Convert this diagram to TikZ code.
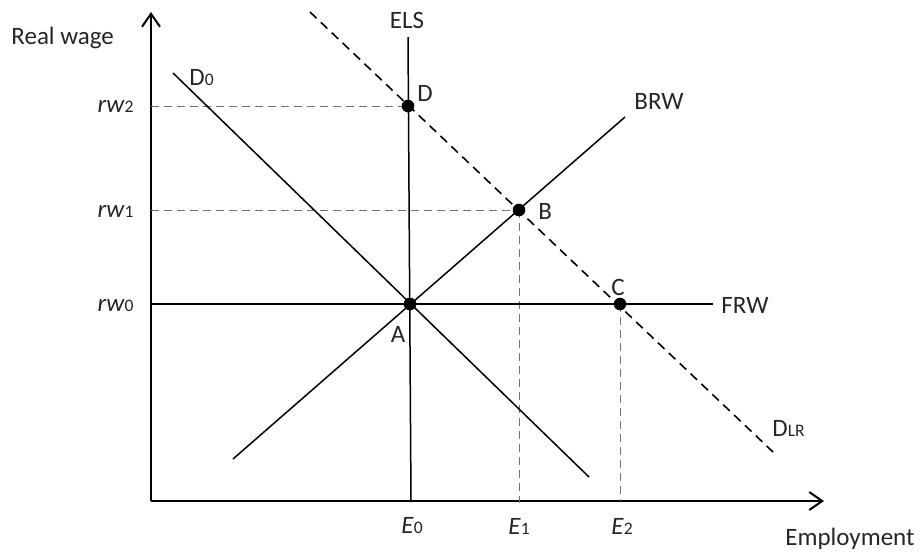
\documentclass[tikz,border=0pt]{standalone}
\usepackage{fontspec}
\setmainfont{Carlito}
\usetikzlibrary{arrows.meta}
\newcommand\smsub[1]{{\fontsize{8.8}{9}\selectfont #1}}
\begin{document}
\begin{tikzpicture}[x=0.5pt,y=-0.5pt,
  axisline/.style={line width=1pt,black},
  curve/.style={line width=0.75pt,black},
  guide/.style={line width=0.5pt,black!55,dash pattern=on 4pt off 2.5pt},
  longrun/.style={line width=0.8pt,black,dash pattern=on 4.5pt off 3pt},
  dot/.style={circle,fill=black,inner sep=0pt,minimum size=6.3pt},
  lbl/.style={inner sep=0pt,font=\fontsize{12.5}{14}\selectfont,text=black!85}]
\useasboundingbox (0,0) rectangle (920,553);
% axes
\coordinate (O) at (151,501);
\coordinate (ytip) at (151,12);
\coordinate (xtip) at (824,501);
\draw[axisline,-{Straight Barb[length=6.5pt,width=9pt,line width=1pt]}] (O) -- (ytip);
\draw[axisline,-{Straight Barb[length=6.5pt,width=9pt,line width=1pt]}] (O) -- (xtip);
% curve end points
\coordinate (elsT) at (408,37);
\coordinate (elsB) at (411,502);
\coordinate (dlrT) at (310,12);
\coordinate (dlrB) at (773,452);
\coordinate (brwL) at (233,459);
\coordinate (brwR) at (625,117);
\coordinate (d0T) at (173,73);
\coordinate (d0B) at (589,477);
\coordinate (frwL) at (151,304);
\coordinate (frwR) at (713,304);
% equilibrium points
\coordinate (A) at (410,304);
\coordinate (B) at (519,210);
\coordinate (C) at (620,304);
\coordinate (D) at (408,106);
% guide line ends
\coordinate (y2) at (151,106);
\coordinate (y1) at (151,210);
\coordinate (x1) at (519,503);
\coordinate (x2) at (620,501);
% guides
\draw[guide] (y2) -- (D);
\draw[guide] (y1) -- (B);
\draw[guide] (B) -- (x1);
\draw[guide] (C) -- (x2);
% curves
\draw[curve] (elsT) -- (elsB);
\draw[curve] (brwL) -- (brwR);
\draw[curve] (d0T) -- (d0B);
\draw[curve] (frwL) -- (frwR);
\draw[longrun] (dlrT) -- (dlrB);
% dots
\node[dot] (pA) at (A) {};
\node[dot] (pB) at (B) {};
\node[dot] (pC) at (C) {};
\node[dot] (pD) at (D) {};
% labels
\node[lbl,anchor=west] (realwage) at (11,38) {Real wage};
\node[lbl,anchor=west] (employment) at (785,539) {Employment};
\node[lbl] (elsl) at (407,20) {ELS};
\node[lbl,anchor=west] (d0l) at (189,78) {D\smsub{0}};
\node[lbl,anchor=west] (dl) at (417,93) {D};
\node[lbl,anchor=west] (brwl) at (634,101) {BRW};
\node[lbl,anchor=west] (bl) at (538,211) {B};
\node[lbl] (cl) at (618,287) {C};
\node[lbl,anchor=west] (frwl) at (721,305) {FRW};
\node[lbl] (al) at (398,334) {A};
\node[lbl,anchor=west] (dlrl) at (772,428) {D\smsub{LR}};
\node[lbl,anchor=east] (rw2) at (134,106) {\textit{rw}\smsub{2}};
\node[lbl,anchor=east] (rw1) at (134,211) {\textit{rw}\smsub{1}};
\node[lbl,anchor=east] (rw0) at (134,305) {\textit{rw}\smsub{0}};
\node[lbl] (e0) at (412,526) {\textit{E}\smsub{0}};
\node[lbl] (e1) at (519,526) {\textit{E}\smsub{1}};
\node[lbl] (e2) at (622,526) {\textit{E}\smsub{2}};
\end{tikzpicture}
\end{document}
